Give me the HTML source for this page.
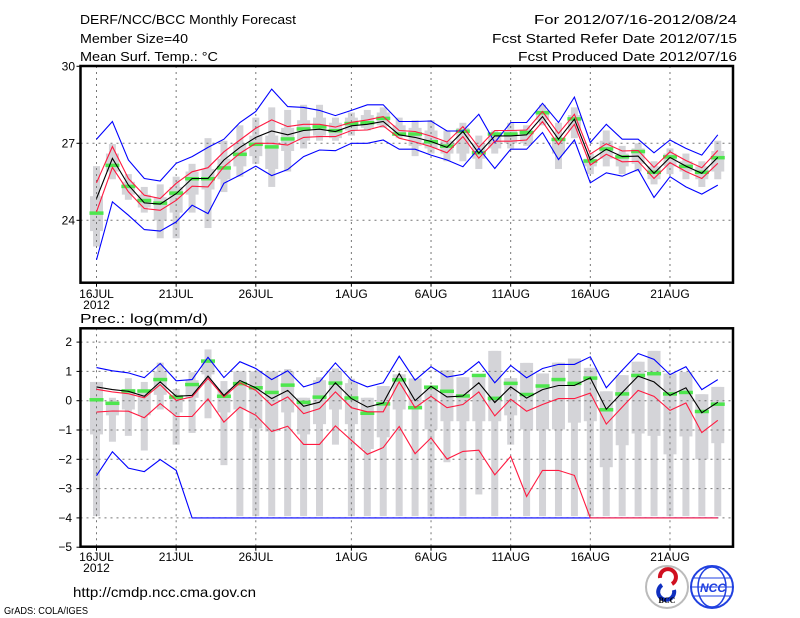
<!DOCTYPE html>
<html><head><meta charset="utf-8"><style>
html,body{margin:0;padding:0;background:#fff;}
svg{display:block;font-family:"Liberation Sans Narrow","Liberation Sans",sans-serif;}
</style></head><body>
<svg id="chart" width="800" height="618" viewBox="0 0 800 618" xmlns="http://www.w3.org/2000/svg">
<g font-size="13" fill="#000">
<text x="80" y="24" textLength="216" lengthAdjust="spacingAndGlyphs">DERF/NCC/BCC Monthly Forecast</text>
<text x="80" y="43" textLength="108" lengthAdjust="spacingAndGlyphs">Member Size=40</text>
<text x="80" y="61" textLength="138" lengthAdjust="spacingAndGlyphs">Mean Surf. Temp.: °C</text>
<text x="534" y="24" textLength="203" lengthAdjust="spacingAndGlyphs">For 2012/07/16-2012/08/24</text>
<text x="492" y="43" textLength="245" lengthAdjust="spacingAndGlyphs">Fcst Started Refer Date 2012/07/15</text>
<text x="518" y="61" textLength="219" lengthAdjust="spacingAndGlyphs">Fcst Produced Date 2012/07/16</text>
</g>
<text x="80" y="323" font-size="13" textLength="128" lengthAdjust="spacingAndGlyphs">Prec.: log(mm/d)</text>
<text x="73" y="597" font-size="14" textLength="183" lengthAdjust="spacingAndGlyphs">http://cmdp.ncc.cma.gov.cn</text>
<text x="4" y="614" font-size="10" textLength="84" lengthAdjust="spacingAndGlyphs">GrADS: COLA/IGES</text>
<g>
<circle cx="667" cy="587" r="21" fill="#fff" stroke="#bbb" stroke-width="2"/>
<path d="M660 578 a8 8 0 1 1 12 6" fill="none" stroke="#d01020" stroke-width="4"/>
<path d="M674 590 a8 8 0 1 1 -12 -5" fill="none" stroke="#1030c0" stroke-width="4"/>
<text x="667" y="603" font-size="8" text-anchor="middle" font-family="Liberation Serif,serif" font-weight="bold">BCC</text>
</g>
<g>
<circle cx="712" cy="587" r="21" fill="#fff" stroke="#2040e0" stroke-width="2"/>
<ellipse cx="712" cy="587" rx="14" ry="20" fill="none" stroke="#2040e0" stroke-width="1.5"/>
<line x1="692" y1="587" x2="732" y2="587" stroke="#2040e0"/>
<line x1="694" y1="578" x2="730" y2="578" stroke="#2040e0"/>
<line x1="694" y1="596" x2="730" y2="596" stroke="#2040e0"/>
<text x="713" y="592" font-size="12" text-anchor="middle" fill="#2040e0" font-weight="bold" font-style="italic">NCC</text>
</g>
<g id="top"></g>
<g id="bot"></g>
</svg>
<script>
// ===== Temperature panel data =====
const dayLabels = ["16JUL","21JUL","26JUL","1AUG","6AUG","11AUG","16AUG","21AUG"];
const dayLabelIdx = [0,5,10,16,21,26,31,36];
const tTicks = [30,27,24];
const tMean = [24.85,26.41,25.37,24.68,24.63,25.04,25.63,25.63,26.35,26.84,27.23,27.48,27.33,27.5,27.55,27.46,27.68,27.74,27.85,27.33,27.23,27.07,26.84,27.46,26.61,27.29,27.29,27.33,28.04,27.16,27.94,26.35,26.77,26.48,26.5,25.83,26.45,26.11,25.83,26.45];
const tRedHi = [25.46,26.87,25.63,24.98,24.85,25.44,25.89,26.05,26.67,27.13,27.59,27.91,27.65,27.74,27.74,27.63,27.82,27.91,28.04,27.5,27.46,27.28,27.05,27.65,26.84,27.5,27.5,27.52,28.24,27.38,28.13,26.58,26.98,26.7,26.72,26.06,26.67,26.33,26.05,26.72];
const tRedLo = [24.33,26.06,25.11,24.46,24.39,24.78,25.33,25.3,26.09,26.61,27,27,26.93,27.23,27.26,27.26,27.5,27.52,27.68,27.2,27.05,26.87,26.63,27.26,26.42,27.08,27.08,27.13,27.84,26.95,27.74,26.15,26.57,26.28,26.3,25.63,26.25,25.9,25.63,26.22];
const tBlueHi = [27.16,27.85,26.35,25.63,25.53,26.22,26.48,26.84,27.16,27.81,28.24,29.11,28.43,28.4,28.28,28.08,28.28,28.5,28.5,27.85,27.85,27.87,27.48,27.48,28.13,27.03,27.81,27.81,28.56,27.81,28.8,27.03,27.74,27.16,27.16,26.63,27.13,26.8,26.54,27.33];
const tBlueLo = [22.46,24.72,24.2,23.64,23.58,23.94,24.59,24.26,25.44,25.76,26.11,25.74,25.98,26.48,26.74,26.71,27,27,27.13,26.77,26.77,26.54,26.35,26.09,26.8,26.02,26.77,26.77,27.42,26.37,27.13,25.46,25.85,25.72,25.98,24.89,25.7,25.3,25.02,25.37];
const tGreen = [24.29,26.15,25.33,24.78,24.68,25.07,25.63,25.63,26.05,26.58,26.97,26.87,27.18,27.57,27.65,27.5,27.78,27.81,27.98,27.37,27.37,27.07,26.9,27.48,26.64,27.37,27.37,27.43,28.2,27.16,27.96,26.32,26.79,26.48,26.69,25.88,26.48,26.11,25.88,26.45];
const tBoxHi = [26.11,26.97,25.8,25.3,25.4,25.7,26.2,27.2,27.1,27.7,28.0,28.4,28.3,28.5,28.5,28.0,28.2,28.3,28.4,28.0,27.9,27.9,27.5,27.8,27.3,27.5,27.8,27.7,28.5,27.8,28.4,26.6,27.5,26.9,27.0,26.3,26.8,26.6,26.3,27.1];
const tBoxLo = [22.98,25.6,24.8,24.3,23.3,23.3,24.3,23.7,25.1,25.7,26.2,25.3,25.9,26.8,27.1,27.1,27.3,27.5,27.6,27.2,26.5,26.6,26.3,26.3,26.0,26.6,26.8,26.9,27.7,26.0,27.2,25.8,26.1,25.8,25.9,25.4,25.8,25.6,25.3,25.6];
const tQHi = [24.94,26.6,25.5,25.0,24.9,25.3,25.9,26.0,26.4,27.0,27.3,27.3,27.6,27.9,28.0,27.8,28.0,28.1,28.2,27.7,27.6,27.5,27.1,27.6,27.0,27.4,27.5,27.5,28.3,27.2,28.1,26.4,27.1,26.6,26.8,26.1,26.6,26.3,26.1,26.7];
const tQLo = [23.58,25.9,25.0,24.5,24.0,24.3,25.0,25.2,25.6,26.1,26.5,26.0,26.7,27.1,27.3,27.2,27.5,27.6,27.7,27.3,26.9,26.8,26.6,26.6,26.4,26.8,27.0,27.0,27.9,26.6,27.5,26.1,26.4,26.1,26.2,25.6,26.1,25.9,25.6,25.9];
// ===== Precipitation panel data =====
const pTicks = [2,1,0,-1,-2,-3,-4,-5];
const pMean = [0.47,0.38,0.32,0.15,0.64,0.15,0.18,0.84,0.18,0.69,0.44,0.07,0.35,-0.19,-0.05,0.61,0.07,-0.22,-0.08,0.93,0,0.49,0.13,0.16,0.61,-0.06,0.47,0.09,0.38,0.52,0.52,0.78,-0.29,0.28,0.84,0.64,0.18,0.44,-0.41,-0.05];
const pBlueHi = [1.13,1.02,0.95,0.79,1.27,0.68,0.72,1.48,0.79,1.33,1.1,0.72,1.02,0.47,0.64,1.29,0.7,0.47,0.61,1.52,0.7,1.16,0.81,0.9,1.33,0.61,1.2,0.78,1.1,1.24,1.24,1.5,0.44,1.04,1.61,1.41,0.89,1.16,0.38,0.72];
const pRedHi = [0.39,0.3,0.24,0.1,0.55,0.01,0.13,0.76,0.13,0.61,0.35,-0.16,0.13,-0.44,-0.27,0.3,-0.24,-0.38,-0.38,0.64,-0.24,0.15,-0.24,-0.13,0.3,-0.52,0.05,-0.36,-0.13,0.07,0.07,0.26,-0.8,-0.22,0.35,0.15,-0.33,-0.08,-1.09,-0.67];
const pRedLo = [-0.39,-0.35,-0.36,-0.58,-0.1,-0.54,-0.54,0.06,-0.73,-0.22,-0.5,-1.05,-0.87,-1.49,-1.49,-0.86,-1.35,-1.83,-1.6,-0.88,-1.81,-1.27,-1.99,-1.73,-1.69,-2.53,-1.9,-3.27,-2.38,-2.38,-2.55,-4,-4,-4,-4,-4,-4,-4,-4,-4];
const pBlueLo = [-2.56,-1.74,-2.3,-2.42,-2.01,-2.38,-4,-4,-4,-4,-4,-4,-4,-4,-4,-4,-4,-4,-4,-4,-4,-4,-4,-4,-4,-4,-4,-4,-4,-4,-4,-4,-4,-4,-4,-4,-4,-4,-4,-4];
const pGreen = [0.04,-0.08,0.34,0.34,0.73,0.13,0.56,1.36,0.16,0.59,0.45,0.29,0.54,-0.05,0.13,0.61,0.1,-0.42,-0.1,0.72,-0.23,0.47,0.33,0.17,0.87,0.09,0.6,0.22,0.51,0.73,0.6,0.78,-0.3,0.24,0.87,0.93,0.24,0.29,-0.36,-0.11];
const pBoxHi = [0.64,0.1,0.77,0.64,1.3,0.4,0.97,1.75,0.67,1.0,1.0,1.0,1.08,0.1,0.8,1.1,0.75,0.1,0.5,0.9,0.76,0.45,1.04,0.8,0.8,1.7,0.77,1.29,0.93,1.3,1.44,1.12,0.32,0.87,1.33,1.7,0.93,0.98,0.22,0.47];
const pBoxLo = [-3.94,-1.4,-1.2,-1.7,-0.3,-1.5,-1.1,-0.6,-2.2,-3.94,-3.94,-3.94,-3.94,-3.94,-3.94,-1.5,-3.94,-3.94,-3.94,-3.94,-3.94,-3.94,-2.1,-3.94,-3.2,-3.94,-1.5,-3.94,-3.94,-3.94,-3.94,-3.94,-3.94,-3.94,-3.94,-3.94,-3.94,-3.94,-3.94,-3.94];
const pQHi = [0.64,-0.1,0.4,0.35,1.0,0.2,0.7,1.3,0.4,1.0,1.0,1.0,1.0,0.1,0.7,1.0,0.6,0.1,0.5,0.9,0.76,0.45,1.04,0.8,0.8,1.7,0.77,1.29,0.93,1.3,1.44,1.12,0.32,0.87,1.33,1.7,0.93,0.98,0.22,0.47];
const pQLo = [-1.15,-0.5,-0.3,-0.5,0.2,-0.4,0.1,0.9,-0.4,-0.3,-0.95,-1.05,-0.4,-1.15,-0.8,-0.3,-0.8,-1.65,-1.25,-0.3,-0.27,-0.98,-0.7,-0.7,-0.7,-0.7,-0.5,-0.98,-0.98,-0.98,-0.75,-0.7,-2.27,-1.52,-1.12,-1.2,-1.83,-1.22,-2.0,-1.45];

const NS="http://www.w3.org/2000/svg";
function mk(parent,tag,attrs){const e=document.createElementNS(NS,tag);for(const k in attrs)e.setAttribute(k,attrs[k]);parent.appendChild(e);return e;}
const xDay = i => 96.5 + 15.93*i;
const L=80.5,R=733;

function panel(g, top, bottom, yFn, ticks, gridVals, series, boxes, green, tickLabelX, labelY, yearY, pname){
  // boxes
  for(let i=0;i<boxes.hi.length;i++){
    const x=xDay(i);
    const r1=mk(g,'rect',{x:x-3.5,y:yFn(boxes.hi[i]),width:7,height:Math.max(0,yFn(boxes.lo[i])-yFn(boxes.hi[i])),fill:'#d4d4d8'});
    
    
    const r2=mk(g,'rect',{x:x-6.5,y:yFn(boxes.qhi[i]),width:13,height:Math.max(0,yFn(boxes.qlo[i])-yFn(boxes.qhi[i])),fill:'#d4d4d8'});
    
    
  }
  // grid
  gridVals.forEach(v=>{const l=mk(g,'line',{x1:L,x2:R,y1:yFn(v),y2:yFn(v),stroke:'#777','stroke-dasharray':'2,4','stroke-width':1});
    
    });
  dayLabelIdx.forEach(i=>{const l=mk(g,'line',{x1:xDay(i),x2:xDay(i),y1:top,y2:bottom,stroke:'#777','stroke-dasharray':'2,4','stroke-width':1});
    
    });
  // green
  green.forEach((v,i)=>{const r=mk(g,'rect',{x:xDay(i)-7,y:yFn(v)-1.5,width:14,height:3.5,fill:'#4ee64e'});
    
    });
  // lines
  series.forEach(s=>{
    const pts=s.data.map((v,i)=>xDay(i).toFixed(1)+','+yFn(v).toFixed(1)).join(' ');
    const p=mk(g,'polyline',{points:pts,fill:'none',stroke:s.color,'stroke-width':1.1});
    
    
  });
  // frame
  const f=mk(g,'rect',{x:L,y:top,width:R-L,height:bottom-top,fill:'none',stroke:'#000','stroke-width':2.5});
  
  
  // y ticks
  ticks.forEach(v=>{
    mk(g,'line',{x1:L-4,x2:L,y1:yFn(v),y2:yFn(v),stroke:'#000'});
    const t=mk(g,'text',{x:tickLabelX,y:yFn(v)+4,'font-size':12,'text-anchor':'end'});
    t.textContent=String(v).replace('-','\u2212');
    
    
  });
  // x ticks
  dayLabelIdx.forEach((i,k)=>{
    mk(g,'line',{x1:xDay(i),x2:xDay(i),y1:bottom,y2:bottom+4,stroke:'#000'});
    const t=mk(g,'text',{x:xDay(i),y:labelY,'font-size':12,'text-anchor':'middle'});
    t.textContent=dayLabels[k];
    
    
  });
  const yr=mk(g,'text',{x:xDay(0),y:yearY,'font-size':12,'text-anchor':'middle'});
  yr.textContent='2012';
  
  
}

const yT = v => 143.3 - (v-27)*25.67;
const yP = v => 400.7 - v*29.3;
const gT=document.getElementById('top');


panel(gT,66,282.7,yT,tTicks,[30,27,24],[
 {data:tBlueHi,color:'#0000ff',name:'temp-max-line'},
 {data:tBlueLo,color:'#0000ff',name:'temp-min-line'},
 {data:tRedHi,color:'#ff1a40',name:'temp-upper-spread-line'},
 {data:tRedLo,color:'#ff1a40',name:'temp-lower-spread-line'},
 {data:tMean,color:'#000',name:'temp-mean-line'}],
 {hi:tBoxHi,lo:tBoxLo,qhi:tQHi,qlo:tQLo},tGreen,75,298,309,'temp');
const gB=document.getElementById('bot');


panel(gB,328.3,546.7,yP,pTicks,[2,1,0,-1,-2,-3,-4],[
 {data:pBlueHi,color:'#0000ff',name:'precip-max-line'},
 {data:pBlueLo,color:'#0000ff',name:'precip-min-line'},
 {data:pRedHi,color:'#ff1a40',name:'precip-upper-spread-line'},
 {data:pRedLo,color:'#ff1a40',name:'precip-lower-spread-line'},
 {data:pMean,color:'#000',name:'precip-mean-line'}],
 {hi:pBoxHi,lo:pBoxLo,qhi:pQHi,qlo:pQLo},pGreen,72,561,572,'precip');
</script>
</body></html>
